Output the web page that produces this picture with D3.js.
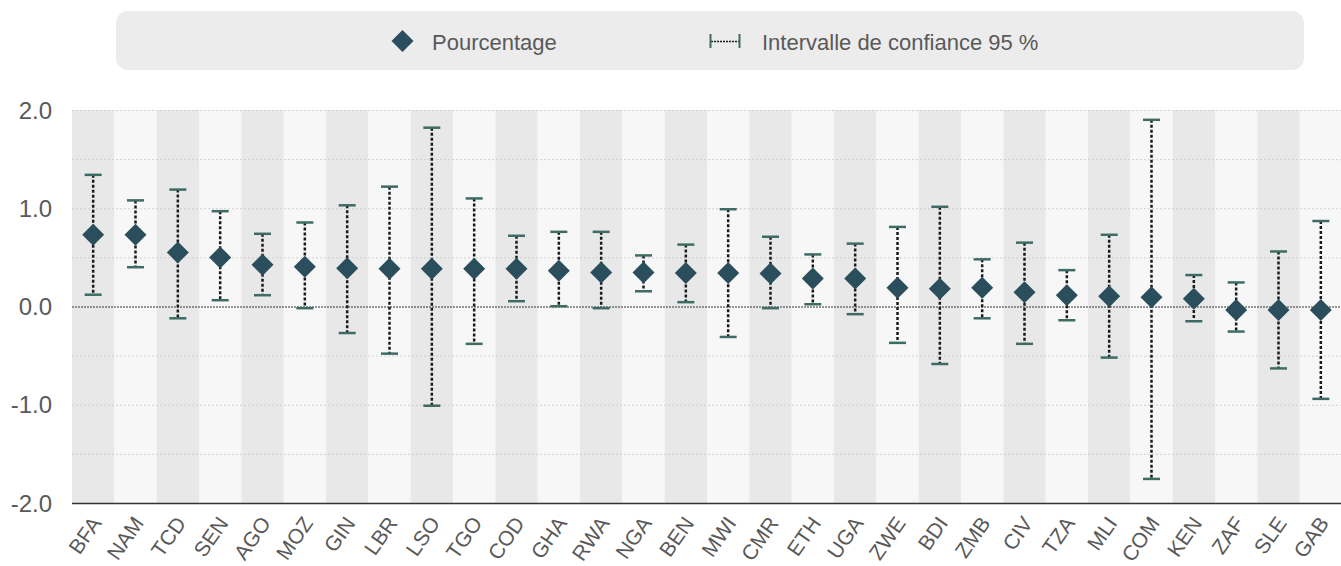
<!DOCTYPE html>
<html>
<head>
<meta charset="utf-8">
<script src="https://cdn.jsdelivr.net/npm/d3@7"></script>
<style>
    body { margin: 0; background: #ffffff; font-family: "Liberation Sans", Arial, sans-serif; }
</style>
</head>
<body>
<div id="chart"></div>
<script>

// data
let countries = ["BFA", "NAM", "TCD", "SEN", "AGO", "MOZ", "GIN", "LBR", "LSO", "TGO",
    "COD", "GHA", "RWA", "NGA", "BEN", "MWI", "CMR", "ETH", "UGA", "ZWE",
    "BDI", "ZMB", "CIV", "TZA", "MLI", "COM", "KEN", "ZAF", "SLE", "GAB"];
let pct = [0.73, 0.73, 0.55, 0.50, 0.425, 0.405, 0.39, 0.385, 0.385, 0.385,
    0.385, 0.365, 0.345, 0.345, 0.34, 0.34, 0.335, 0.285, 0.285, 0.19,
    0.18, 0.19, 0.145, 0.115, 0.105, 0.095, 0.08, -0.035, -0.035, -0.035];
let ciLow = [0.12, 0.40, -0.12, 0.064, 0.115, -0.017, -0.27, -0.48, -1.01, -0.38,
    0.054, 0.003, -0.017, 0.155, 0.044, -0.31, -0.017, 0.023, -0.078, -0.37,
    -0.585, -0.12, -0.38, -0.14, -0.52, -1.755, -0.15, -0.255, -0.63, -0.94];
let ciHigh = [1.34, 1.08, 1.19, 0.97, 0.74, 0.855, 1.03, 1.22, 1.82, 1.10,
    0.72, 0.76, 0.76, 0.52, 0.63, 0.99, 0.71, 0.53, 0.64, 0.81,
    1.015, 0.48, 0.65, 0.37, 0.73, 1.90, 0.32, 0.245, 0.56, 0.87];
let yTicks = [-2, -1, 0, 1, 2];
let gridTicks = [-1.5, -1, -0.5, 0.5, 1, 1.5, 2];
let legendLabels = ["Pourcentage", "Intervalle de confiance 95 %"];

let rows = countries.map((c, i) => ({ code: c, value: pct[i], low: ciLow[i], high: ciHigh[i], idx: i }));

let width = 1341, height = 566;
let margin = { left: 72, right: -1, top: 110, bottom: 63 };

let svg = d3.select("#chart").append("svg")
    .attr("width", width)
    .attr("height", height);

let x = d3.scaleBand()
    .domain(countries)
    .range([margin.left, width - margin.right])
    .padding(0);

let y = d3.scaleLinear()
    .domain([-2, 2])
    .range([height - margin.bottom, margin.top]);

let textColor = "#595959";
let markColor = "#2b4e5d";
let capColor = "#3e6b64";

// alternating column bands
svg.append("g").selectAll("rect")
    .data(rows)
    .join("rect")
    .attr("x", d => x(d.code))
    .attr("y", y(2))
    .attr("width", x.bandwidth())
    .attr("height", y(-2) - y(2))
    .attr("fill", d => d.idx % 2 === 0 ? "#e8e8e8" : "#f7f7f7");

// light grid
svg.append("g").selectAll("line")
    .data(gridTicks)
    .join("line")
    .attr("x1", margin.left)
    .attr("x2", width)
    .attr("y1", d => y(d) + 0.5)
    .attr("y2", d => y(d) + 0.5)
    .attr("stroke", "#cfcfcf")
    .attr("stroke-width", 1)
    .attr("stroke-dasharray", "2,2");

// zero line
svg.append("line")
    .attr("x1", margin.left)
    .attr("x2", width)
    .attr("y1", y(0) + 0.5)
    .attr("y2", y(0) + 0.5)
    .attr("stroke", "#333")
    .attr("stroke-width", 1)
    .attr("stroke-dasharray", "2,1");

// bottom axis line
svg.append("line")
    .attr("x1", margin.left)
    .attr("x2", width)
    .attr("y1", y(-2) + 0.5)
    .attr("y2", y(-2) + 0.5)
    .attr("stroke", "#333")
    .attr("stroke-width", 1.5);

// y labels
svg.append("g").selectAll("text")
    .data(yTicks)
    .join("text")
    .attr("x", 52)
    .attr("y", d => y(d))
    .attr("dy", "0.36em")
    .attr("text-anchor", "end")
    .attr("fill", textColor)
    .attr("font-size", "24px")
    .text(d => d.toFixed(1));

// x labels
svg.append("g").selectAll("text")
    .data(rows)
    .join("text")
    .attr("transform", d => `translate(${x(d.code) + x.bandwidth() / 2 + 3},${y(-2) + 16}) rotate(-55)`)
    .attr("text-anchor", "end")
    .attr("dy", "0.35em")
    .attr("fill", textColor)
    .attr("font-size", "21px")
    .text(d => d.code);

let cx = d => x(d.code) + x.bandwidth() / 2;

// confidence intervals
let ci = svg.append("g");
ci.selectAll("line.ci")
    .data(rows)
    .join("line")
    .attr("class", "ci")
    .attr("x1", cx)
    .attr("x2", cx)
    .attr("y1", d => y(d.high))
    .attr("y2", d => y(d.low))
    .attr("stroke", "#1a1a1a")
    .attr("stroke-width", 2.5)
    .attr("stroke-dasharray", "3,2");

["high", "low"].forEach(k => {
    ci.selectAll(`line.cap-${k}`)
        .data(rows)
        .join("line")
        .attr("class", `cap-${k}`)
        .attr("x1", d => cx(d) - 8.5)
        .attr("x2", d => cx(d) + 8.5)
        .attr("y1", d => y(d[k]))
        .attr("y2", d => y(d[k]))
        .attr("stroke", capColor)
        .attr("stroke-width", 2.5);
});

// diamonds
let diamond = "M0,-11L11,0L0,11L-11,0Z";
svg.append("g").selectAll("path")
    .data(rows)
    .join("path")
    .attr("transform", d => `translate(${cx(d)},${y(d.value)})`)
    .attr("d", diamond)
    .attr("fill", markColor);

// legend
let legend = svg.append("g");
legend.append("rect")
    .attr("x", 116)
    .attr("y", 11)
    .attr("width", 1188)
    .attr("height", 59)
    .attr("rx", 12)
    .attr("fill", "#ececec");

legend.append("path")
    .attr("transform", "translate(402.5,41)")
    .attr("d", diamond)
    .attr("fill", markColor);

legend.append("text")
    .attr("x", 432)
    .attr("y", 42)
    .attr("dy", "0.36em")
    .attr("fill", textColor)
    .attr("font-size", "22px")
    .text(legendLabels[0]);

legend.append("line")
    .attr("x1", 711).attr("x2", 739)
    .attr("y1", 41.5).attr("y2", 41.5)
    .attr("stroke", "#1a1a1a")
    .attr("stroke-width", 1.5)
    .attr("stroke-dasharray", "2,1");

[710.5, 739.5].forEach(px => {
    legend.append("line")
        .attr("x1", px).attr("x2", px)
        .attr("y1", 34).attr("y2", 48)
        .attr("stroke", capColor)
        .attr("stroke-width", 2);
});

legend.append("text")
    .attr("x", 762)
    .attr("y", 42)
    .attr("dy", "0.36em")
    .attr("fill", textColor)
    .attr("font-size", "22px")
    .text(legendLabels[1]);

</script>
</body>
</html>
